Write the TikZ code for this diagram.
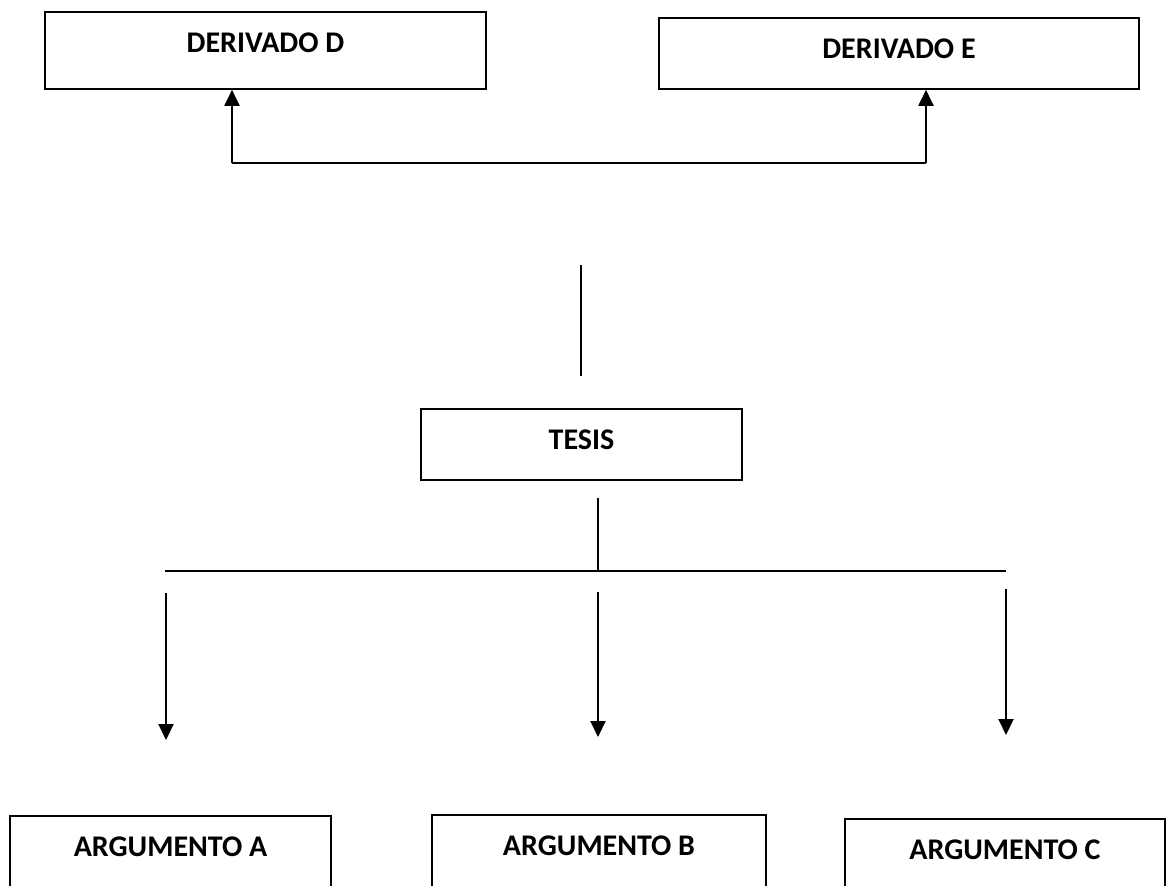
\documentclass[tikz,border=0pt]{standalone}
\usepackage{fontspec}
\setmainfont{Carlito}
\usepackage{tikz}
\usetikzlibrary{arrows.meta, positioning}

\begin{document}
\begin{tikzpicture}[
  x=0.5pt, y=-0.5pt,
  every node/.style = {font=\fontsize{15}{18}\selectfont\bfseries},
  caja/.style = {rectangle, draw=black, line width=0.8pt, fill=white,
                 inner sep=0pt, anchor=base, text height=20pt,
                 minimum width=#1},
  arr/.style  = {-{Triangle[length=8pt, width=7.5pt]}, line width=1pt},
  linea/.style = {line width=0.9pt},
]
\clip (0,0) rectangle (1172,885);

%% == top: derivados ==
\node[caja=220.5pt, text depth=18.5pt] at (265.5,52) (derivD) {DERIVADO D};
\node[caja=240pt,   text depth=15.5pt] at (899,58)   (derivE) {DERIVADO E};

\coordinate (bD) at (232,163);
\coordinate (bE) at (926,163);
\draw[arr] (bD) -- (bD |- derivD.south);
\draw[linea, line width=1pt] (bD) -- (bE);
\draw[arr] (bE) -- (bE |- derivE.south);

%% == middle: tesis ==
\coordinate (vt1) at (581,265);
\coordinate (vt2) at (581,376);
\draw[linea] (vt1) -- (vt2);

\node[caja=160.5pt, text depth=15.5pt] at (581.5,449) (tesis) {TESIS};

\coordinate (tb)   at (598,498);
\coordinate (bus)  at (598,571);
\coordinate (busA) at (165,571);
\coordinate (busC) at (1006,571);
\draw[linea] (tb) -- (bus);
\draw[linea] (busA) -- (busC);

%% == bottom: argumentos ==
\foreach \n/\x/\a/\b in {A/166/593/740, B/598/592/737, C/1006/589/735} {
  \coordinate (in\n)  at (\x,\a);
  \coordinate (out\n) at (\x,\b);
  \draw[arr] (in\n) -- (out\n);
}

\node[caja=160.5pt, text depth=25pt] at (170.5,856) (argA) {ARGUMENTO A};
\node[caja=167pt,   text depth=25pt] at (599,855)   (argB) {ARGUMENTO B};
\node[caja=160pt,   text depth=25pt] at (1005,859)  (argC) {ARGUMENTO C};

\end{tikzpicture}
\end{document}
